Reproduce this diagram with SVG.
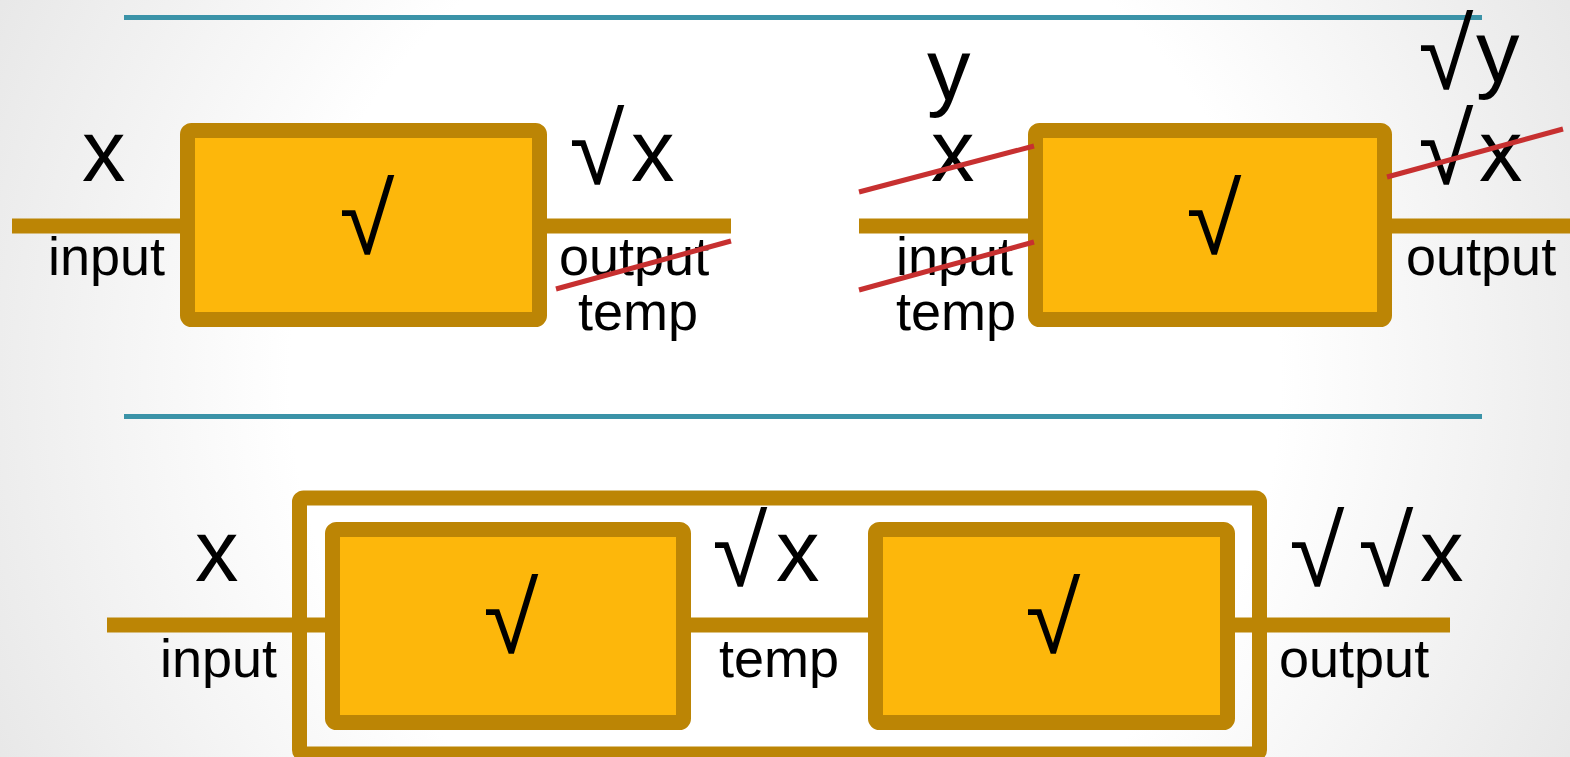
<svg xmlns="http://www.w3.org/2000/svg" width="1570" height="757" viewBox="0 0 1570 757">
<defs>
<radialGradient id="bg" cx="785" cy="378" r="900" gradientUnits="userSpaceOnUse">
<stop offset="0.55" stop-color="#ffffff"/>
<stop offset="1" stop-color="#e6e6e6"/>
</radialGradient>
<style>
.rule{stroke:#3b93a8;stroke-width:5;fill:none}
.wire{stroke:#bc8505;stroke-width:15;fill:none}
.box{fill:#fdb70b;stroke:#bc8505;stroke-width:15;stroke-linejoin:round}
.frame{fill:none;stroke:#bc8505;stroke-width:15;stroke-linejoin:round}
.strike{stroke:#c73030;stroke-width:5;fill:none}
.var{font-family:"Liberation Sans",Arial,sans-serif;font-size:87px;fill:#000}
.lbl{font-family:"Liberation Sans",Arial,sans-serif;font-size:54px;fill:#000}
.rad{font-family:"Noto Sans",sans-serif;font-weight:100;font-size:100px;fill:#000;text-anchor:middle}
</style>
</defs>
<rect x="0" y="0" width="1570" height="757" fill="url(#bg)"/>
<g id="rules">
<line class="rule" x1="124" y1="17.5" x2="1482" y2="17.5"/>
<line class="rule" x1="124" y1="416.5" x2="1482" y2="416.5"/>
</g>
<g id="connectors">
<line class="wire" x1="12" y1="226" x2="731" y2="226"/>
<line class="wire" x1="859" y1="226" x2="1570" y2="226"/>
<line class="wire" x1="107" y1="625" x2="1450" y2="625"/>
</g>
<g id="node-top-left">
<rect class="box" x="187.5" y="130.5" width="352" height="189" rx="4"/>
<text class="rad" x="367" y="254">√</text>
</g>
<g id="node-top-right">
<rect class="box" x="1035.5" y="130.5" width="349" height="189" rx="4"/>
<text class="rad" x="1214" y="254">√</text>
</g>
<g id="node-bottom-outer">
<rect class="frame" x="299.5" y="498" width="960" height="256" rx="4"/>
</g>
<g id="node-bottom-1">
<rect class="box" x="332.5" y="529.5" width="351" height="193" rx="4"/>
<text class="rad" x="511" y="653">√</text>
</g>
<g id="node-bottom-2">
<rect class="box" x="875.5" y="529.5" width="352" height="193" rx="4"/>
<text class="rad" x="1053" y="653">√</text>
</g>
<g id="labels-top-left">
<text class="var" x="82" y="181">x</text>
<text class="lbl" x="48" y="275">input</text>
<text class="rad" x="597" y="184">√</text>
<text class="var" x="631" y="181">x</text>
<text class="lbl" x="559" y="275">output</text>
<text class="lbl" x="578" y="330">temp</text>
<line class="strike" x1="556" y1="289" x2="731" y2="241"/>
</g>
<g id="labels-top-right">
<text class="var" x="927" y="100">y</text>
<text class="var" x="931" y="181">x</text>
<text class="lbl" x="896" y="275">input</text>
<text class="lbl" x="896" y="330">temp</text>
<line class="strike" x1="859" y1="192" x2="1034" y2="146"/>
<line class="strike" x1="859" y1="290" x2="1034" y2="242"/>
<text class="rad" x="1446" y="89">√</text>
<text class="var" x="1476" y="82">y</text>
<text class="rad" x="1446" y="184">√</text>
<text class="var" x="1479" y="181">x</text>
<line class="strike" x1="1387" y1="177" x2="1563" y2="129"/>
<text class="lbl" x="1406" y="275">output</text>
</g>
<g id="labels-bottom">
<text class="var" x="195" y="581">x</text>
<text class="lbl" x="160" y="677">input</text>
<text class="rad" x="740" y="586">√</text>
<text class="var" x="776" y="581">x</text>
<text class="lbl" x="719" y="677">temp</text>
<text class="rad" x="1317" y="586">√</text>
<text class="rad" x="1386" y="586">√</text>
<text class="var" x="1420" y="581">x</text>
<text class="lbl" x="1279" y="677">output</text>
</g>
</svg>
